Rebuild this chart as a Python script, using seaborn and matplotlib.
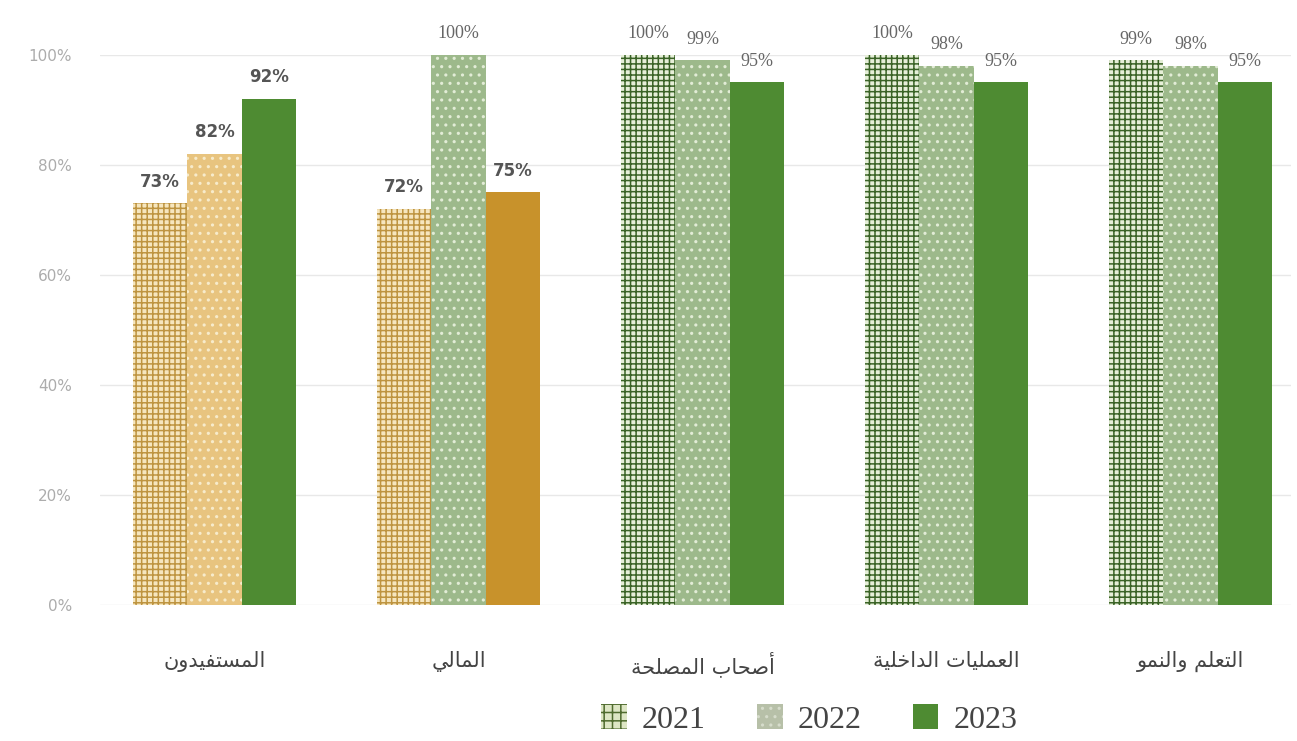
import numpy as np
import pandas as pd
import matplotlib
matplotlib.use("Agg")
import matplotlib.pyplot as plt
import matplotlib.patches as mpatches
import seaborn as sns

# data
categories = ["المستفيدون", "المالي", "أصحاب المصلحة", "العمليات الداخلية", "التعلم والنمو"]
years = ["2021", "2022", "2023"]
values_2021 = [73, 72, 100, 100, 99]
values_2022 = [82, 100, 99, 98, 98]
values_2023 = [92, 75, 95, 95, 95]

# presentation forms: isolated, final, initial, medial
FORMS = {
    "ا": ("\uFE8D", "\uFE8E", None, None),
    "أ": ("\uFE83", "\uFE84", None, None),
    "ب": ("\uFE8F", "\uFE90", "\uFE91", "\uFE92"),
    "ة": ("\uFE93", "\uFE94", None, None),
    "ت": ("\uFE95", "\uFE96", "\uFE97", "\uFE98"),
    "ح": ("\uFEA1", "\uFEA2", "\uFEA3", "\uFEA4"),
    "خ": ("\uFEA5", "\uFEA6", "\uFEA7", "\uFEA8"),
    "د": ("\uFEA9", "\uFEAA", None, None),
    "س": ("\uFEB1", "\uFEB2", "\uFEB3", "\uFEB4"),
    "ص": ("\uFEB9", "\uFEBA", "\uFEBB", "\uFEBC"),
    "ع": ("\uFEC9", "\uFECA", "\uFECB", "\uFECC"),
    "ف": ("\uFED1", "\uFED2", "\uFED3", "\uFED4"),
    "ل": ("\uFEDD", "\uFEDE", "\uFEDF", "\uFEE0"),
    "م": ("\uFEE1", "\uFEE2", "\uFEE3", "\uFEE4"),
    "ن": ("\uFEE5", "\uFEE6", "\uFEE7", "\uFEE8"),
    "و": ("\uFEED", "\uFEEE", None, None),
    "ي": ("\uFEF1", "\uFEF2", "\uFEF3", "\uFEF4"),
}


def shape_arabic(text):
    # matplotlib has no RTL shaping, so pick glyph forms and reverse
    out = []
    for k, ch in enumerate(text):
        if ch not in FORMS:
            out.append(ch)
            continue
        prev = text[k - 1] if k > 0 else None
        nxt = text[k + 1] if k + 1 < len(text) else None
        join_prev = prev in FORMS and FORMS[prev][2] is not None
        join_next = nxt in FORMS and FORMS[ch][2] is not None
        iso, fin, ini, med = FORMS[ch]
        if join_prev and join_next:
            out.append(med)
        elif join_prev:
            out.append(fin)
        elif join_next:
            out.append(ini)
        else:
            out.append(iso)
    return "".join(reversed(out))


df = pd.DataFrame({
    "category": categories * 3,
    "year": np.repeat(years, len(categories)),
    "value": values_2021 + values_2022 + values_2023,
})

sns.set_theme(style="white")
plt.rcParams["font.family"] = ["DejaVu Sans"]
plt.rcParams["hatch.linewidth"] = 1.1

# styles: (face, hatch colour, hatch)
gold_grid = ("#F6E6BE", "#BE9440", "+++")
green_grid = ("#E6EFD8", "#3A6326", "+++")
gold_dots = ("#E8C47F", "#F7EBCB", "..")
green_dots = ("#9DB98B", "#E2ECD6", "..")
green_solid = ("#4E8B32", "#4E8B32", "")
gold_solid = ("#C8922B", "#C8922B", "")

styles = {
    "2021": [gold_grid, gold_grid, green_grid, green_grid, green_grid],
    "2022": [gold_dots, green_dots, green_dots, green_dots, green_dots],
    "2023": [green_solid, gold_solid, green_solid, green_solid, green_solid],
}

fig = plt.figure(figsize=(12.97, 7.41), dpi=100)
ax = fig.add_axes([0.077, 0.1835, 0.918, 0.7423])

sns.barplot(data=df, x="category", y="value", hue="year", order=categories,
            hue_order=years, width=0.67, palette=["#cccccc"] * 3,
            legend=False, ax=ax)

for j, year in enumerate(years):
    cont = ax.containers[j]
    for i, bar in enumerate(cont):
        face, hcol, hatch = styles[year][i]
        bar.set_facecolor(face)
        bar.set_edgecolor(hcol)
        bar.set_hatch(hatch)
        bar.set_linewidth(0)
    texts = ax.bar_label(cont, labels=[f"{v:.0f}%" for v in cont.datavalues],
                         padding=9, fontsize=12, color="#555555")
    for i, t in enumerate(texts):
        if i >= 2 or cont.datavalues[i] == 100:
            t.set_family("Liberation Serif")
            t.set_fontsize(13)
            t.set_color("#666666")
        else:
            t.set_fontweight("bold")

ax.set_ylim(0, 100)
ax.set_xlim(-0.47, 4.41)
ax.set_yticks(range(0, 101, 20))
ax.set_yticklabels([f"{v}%" for v in range(0, 101, 20)], fontsize=11, color="#acacac")
ax.set_xticks(range(len(categories)))
ax.set_xticklabels([shape_arabic(c) for c in categories], fontsize=15, color="#444444")
ax.tick_params(axis="x", pad=33, length=0)
ax.tick_params(axis="y", pad=20, length=0)
ax.yaxis.grid(True, color="#e8e8e8", linewidth=1)
ax.set_axisbelow(True)
ax.set_xlabel("")
ax.set_ylabel("")
sns.despine(ax=ax, left=True, bottom=True)

handles = [
    mpatches.Patch(facecolor="#DDE6C4", edgecolor="#4F6B2E", hatch="++", linewidth=0),
    mpatches.Patch(facecolor="#B7C0A8", edgecolor="#D6DCCB", hatch="..", linewidth=0),
    mpatches.Patch(facecolor=green_solid[0], linewidth=0),
]
fig.legend(handles, years, loc="center", bbox_to_anchor=(0.624, 0.029), ncol=3,
           frameon=False, handlelength=0.8, handleheight=0.8, columnspacing=1.6,
           handletextpad=0.47, borderpad=0.1,
           prop={"family": "Liberation Serif", "size": 23},
           labelcolor="#444444")

fig.savefig("out.png", dpi=100)
